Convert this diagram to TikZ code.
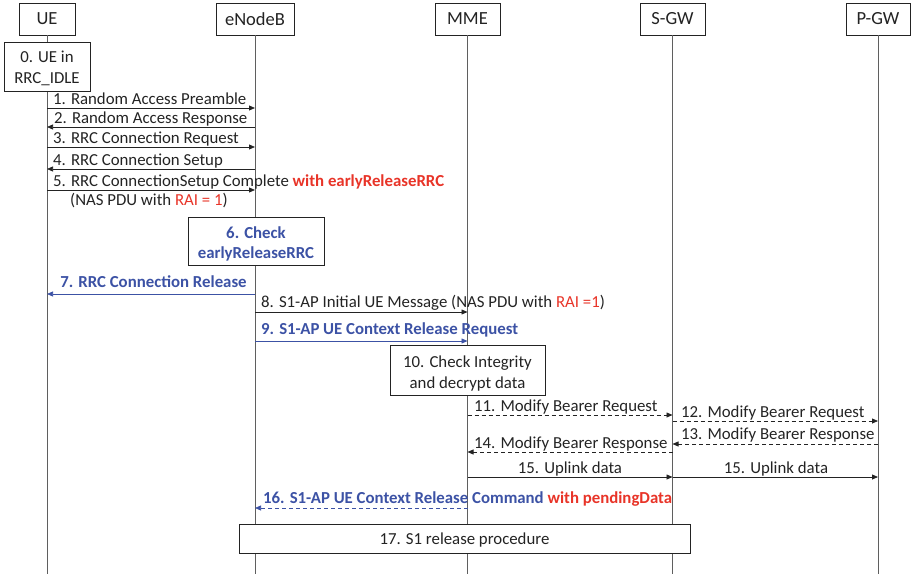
\documentclass[tikz,border=0pt]{standalone}
\usepackage{fontspec}
\setmainfont{Carlito}
\usetikzlibrary{arrows.meta}
\definecolor{lineC}{RGB}{35,35,35}
\definecolor{lifeC}{RGB}{95,95,95}
\definecolor{blueC}{RGB}{60,82,165}
\definecolor{redC}{RGB}{232,52,40}
\begin{document}
\begin{tikzpicture}[x=1pt,y=-1pt,
  hdr/.style={draw=lineC, fill=white, minimum height=32pt, inner sep=0pt, font=\fontsize{18.5}{22}\selectfont, text=lineC},
  box/.style={draw=lineC, fill=white, inner sep=0pt},
  btxt/.style={inner sep=0pt, align=center, font=\fontsize{16.8}{20.5}\selectfont, text=lineC},
  bbtxt/.style={btxt, font=\fontsize{16.8}{20.5}\selectfont\bfseries, text=blueC},
  lbl/.style={font=\fontsize{16.8}{21}\selectfont, text=lineC, inner sep=0pt},
  blbl/.style={lbl, font=\fontsize{16.8}{21}\selectfont\bfseries, text=blueC},
  msg/.style={draw=lineC, line width=0.75pt, -{Triangle[length=6pt,width=5pt]}},
  dmsg/.style={msg, dash pattern=on 4pt off 3pt},
  bmsg/.style={msg, draw=blueC},
  life/.style={draw=lifeC, line width=0.75pt}]
\useasboundingbox (0,0) rectangle (911,575);

% headers
\node[hdr, minimum width=56pt] (UE)  at (47,19)    {UE};
\node[hdr, minimum width=78pt] (ENB) at (255,19)   {eNodeB};
\node[hdr, minimum width=65pt] (MME) at (467.5,19) {MME};
\node[hdr, minimum width=65pt] (SGW) at (672.5,19) {S-GW};
\node[hdr, minimum width=64pt] (PGW) at (878,19)   {P-GW};

% lifelines
\foreach \n in {UE,ENB,MME,SGW,PGW}{
  \coordinate (\n end) at (\n.south |- 0,574);
  \draw[life] (\n.south) -- (\n end);
}

% boxes
\node[box, minimum width=86pt, minimum height=49pt] (b0) at (47,66.5) {};
\node[btxt, yshift=-2pt] (t0) at (b0.center) {0. UE in\\RRC\_IDLE};
\node[box, minimum width=136pt, minimum height=48pt] (b6) at (256,241) {};
\node[bbtxt, yshift=-3pt] (t6) at (b6.center) {6. Check\\earlyReleaseRRC};
\node[box, minimum width=155pt, minimum height=50pt] (b10) at (467.5,370) {};
\node[btxt, yshift=-3.5pt] (t10) at (b10.center) {10. Check Integrity\\and decrypt data};
\node[box, minimum width=451pt, minimum height=29pt] (b17) at (464.5,538.5) {};
\node[btxt, yshift=-2pt] (t17) at (b17.center) {17. S1 release procedure};

% 1-5
\draw[msg] (UE |- 0,108) -- (ENB |- 0,108);
\node[lbl, anchor=base west] (l1) at (53,104.5) {1. Random Access Preamble};
\draw[msg] (ENB |- 0,127) -- (UE |- 0,127);
\node[lbl, anchor=base west] (l2) at (54,123.5) {2. Random Access Response};
\draw[msg] (UE |- 0,147) -- (ENB |- 0,147);
\node[lbl, anchor=base west] (l3) at (53,143.5) {3. RRC Connection Request};
\draw[msg] (ENB |- 0,169) -- (UE |- 0,169);
\node[lbl, anchor=base west] (l4) at (53,165.5) {4. RRC Connection Setup};
\draw[msg] (UE |- 0,190) -- (ENB |- 0,190);
\node[lbl, anchor=base west] (l5) at (53,186.5) {5. RRC ConnectionSetup Complete \textcolor{redC}{\bfseries with earlyReleaseRRC}};
\node[lbl, anchor=base west] (l5b) at (70,206) {(NAS PDU with \textcolor{redC}{RAI = 1})};

% 7
\draw[bmsg] (ENB |- 0,294) -- (UE |- 0,294);
\node[blbl, anchor=base] (l7) at (153.5,287.5) {7. RRC Connection Release};

% 8, 9
\draw[msg] (ENB |- 0,312) -- (MME |- 0,312);
\node[lbl, anchor=base west] (l8) at (261,307.5) {8. S1-AP Initial UE Message (NAS PDU with \textcolor{redC}{RAI =1})};
\draw[bmsg] (ENB |- 0,341) -- (MME |- 0,341);
\node[blbl, anchor=base west] (l9) at (261,334) {9. S1-AP UE Context Release Request};

% 11-14
\draw[dmsg] (MME |- 0,415) -- (SGW |- 0,415);
\node[lbl, anchor=base west] (l11) at (474,411) {11. Modify Bearer Request};
\draw[dmsg] (SGW |- 0,421) -- (PGW |- 0,421);
\node[lbl, anchor=base west] (l12) at (681,417) {12. Modify Bearer Request};
\draw[dmsg] (PGW |- 0,444) -- (SGW |- 0,444);
\node[lbl, anchor=base west] (l13) at (681,439.5) {13. Modify Bearer Response};
\draw[dmsg] (SGW |- 0,452) -- (MME |- 0,452);
\node[lbl, anchor=base west] (l14) at (474,448) {14. Modify Bearer Response};

% 15
\draw[msg] (MME |- 0,477) -- (SGW |- 0,477);
\node[lbl, anchor=base] (l15a) at (570,473) {15. Uplink data};
\draw[msg] (SGW |- 0,477) -- (PGW |- 0,477);
\node[lbl, anchor=base] (l15b) at (776,473) {15. Uplink data};

% 16
\draw[bmsg, dash pattern=on 4pt off 3pt] (MME |- 0,508) -- (ENB |- 0,508);
\node[lbl, anchor=base west, font=\fontsize{16.8}{21}\selectfont\bfseries] (l16) at (263,503) {\textcolor{blueC}{16. S1-AP UE Context Release Command} \textcolor{redC}{with pendingData}};
\end{tikzpicture}
\end{document}
